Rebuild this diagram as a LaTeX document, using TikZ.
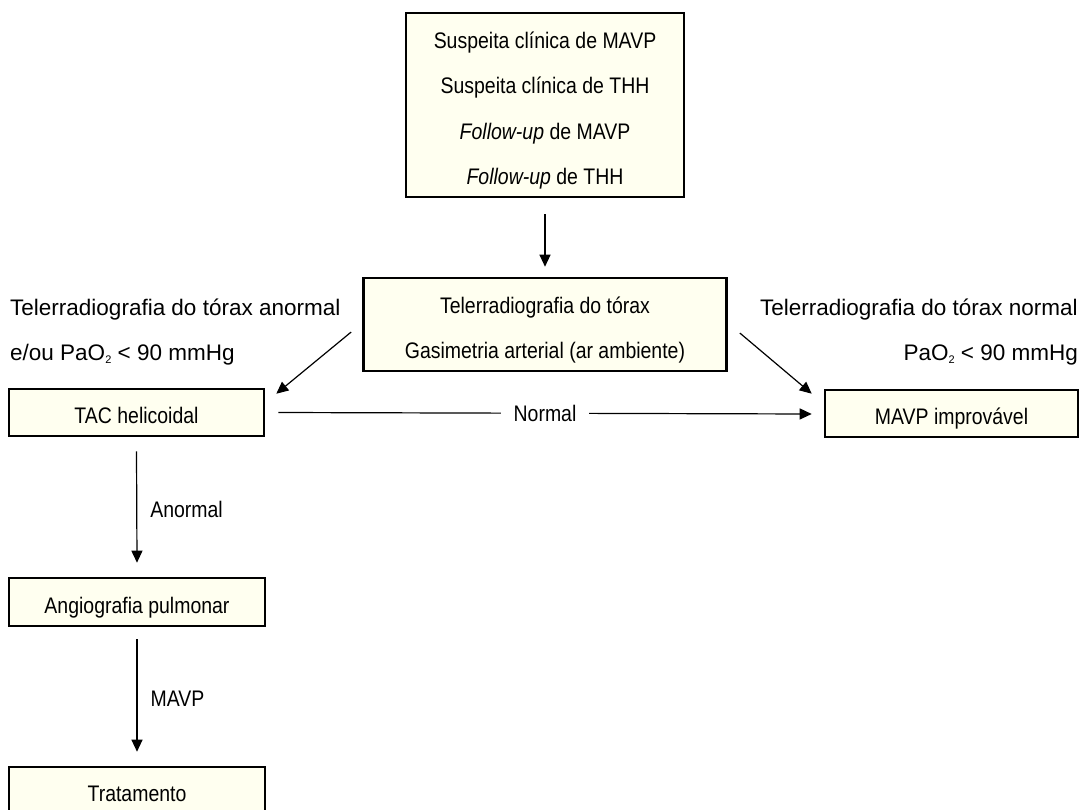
\documentclass[tikz,border=0pt]{standalone}
\usepackage{fontspec}
\setmainfont{Liberation Sans}
\newfontfamily\condfont[FakeStretch=0.865]{Liberation Sans}
\usetikzlibrary{arrows.meta}
\definecolor{cream}{RGB}{255,255,240}
\newcommand{\subtwo}{\raisebox{-3.5pt}{\fontsize{11}{11}\selectfont 2}}
\begin{document}
\begin{tikzpicture}[x=1pt,y=-1pt,
  box/.style={draw=black, line width=2.6pt, fill=cream, inner sep=0pt},
  cfont/.style={font=\condfont\fontsize{22.5}{26}\selectfont},
  txt/.style={anchor=base, inner sep=0pt, cfont},
  side/.style={inner sep=0pt, font=\fontsize{22.5}{26}\selectfont},
  arr/.style={line width=1.2pt, -{Triangle[length=12pt,width=11pt]}}]
\useasboundingbox (0,0) rectangle (1081,810);
\begin{scope}
\clip (0,0) rectangle (1081,810);
% boxes
\node[box, minimum width=278pt, minimum height=184pt] (top) at (545,105) {};
\node[box, minimum width=363pt, minimum height=93pt] (mid) at (545,324.5) {};
\node[box, minimum width=255pt, minimum height=47pt] (tac) at (136.5,412.5) {};
\node[box, minimum width=253pt, minimum height=47pt] (imp) at (951.5,413.5) {};
\node[box, minimum width=256pt, minimum height=48pt] (ang) at (137,602) {};
\node[box, minimum width=256pt, minimum height=47pt] (trat) at (137,790.5) {};
\end{scope}
% box texts
\node[txt] (t1) at (545,49) {Suspeita clínica de MAVP};
\node[txt] (t2) at (545,94) {Suspeita clínica de THH};
\node[txt] (t3) at (545,140) {\textit{Follow-up} de MAVP};
\node[txt] (t4) at (545,185) {\textit{Follow-up} de THH};
\node[txt] (m1) at (545,313) {Telerradiografia do tórax};
\node[txt] (m2) at (545,358) {Gasimetria arterial (ar ambiente)};
\node[txt] (tact) at (136.5,423) {TAC helicoidal};
\node[txt] (impt) at (951.5,424) {MAVP improvável};
\node[txt] (angt) at (137,613) {Angiografia pulmonar};
\node[txt] (tratt) at (137,801) {Tratamento};
% side labels
\node[side, anchor=base west] (l1) at (10,316) {Telerradiografia do tórax anormal};
\node[side, anchor=base west] (l2) at (10,360) {e/ou PaO\subtwo\ < 90 mmHg};
\node[side, anchor=base east] (r1) at (1078,316) {Telerradiografia do tórax normal};
\node[side, anchor=base east] (r2) at (1078,360) {PaO\subtwo\ < 90 mmHg};
% connectors
\draw[arr] ([yshift=-16pt]top.south) -- ([yshift=10pt]mid.north);
\draw[arr] ([xshift=-11pt,yshift=-7.5pt]mid.west) -- ([xshift=11pt,yshift=-6pt]tac.north east);
\draw[arr] ([xshift=12pt,yshift=-8.5pt]mid.east) -- ([xshift=-12pt,yshift=-5pt]imp.north west);
\draw[arr] ([xshift=13pt]tac.east) -- node[fill=white, inner ysep=2pt, inner xsep=13pt, cfont] (normal) {Normal} ([xshift=-12pt,yshift=-0.5pt]imp.west);
\draw[arr] ([yshift=-14pt]tac.south) -- node[right, inner sep=0pt, xshift=13pt, yshift=-2pt, cfont] (anormal) {Anormal} ([yshift=14pt]ang.north);
\draw[arr] ([yshift=-12pt]ang.south) -- node[right, inner sep=0pt, xshift=13pt, yshift=-3pt, cfont] (mavp) {MAVP} ([yshift=14pt]trat.north);
\end{tikzpicture}
\end{document}
